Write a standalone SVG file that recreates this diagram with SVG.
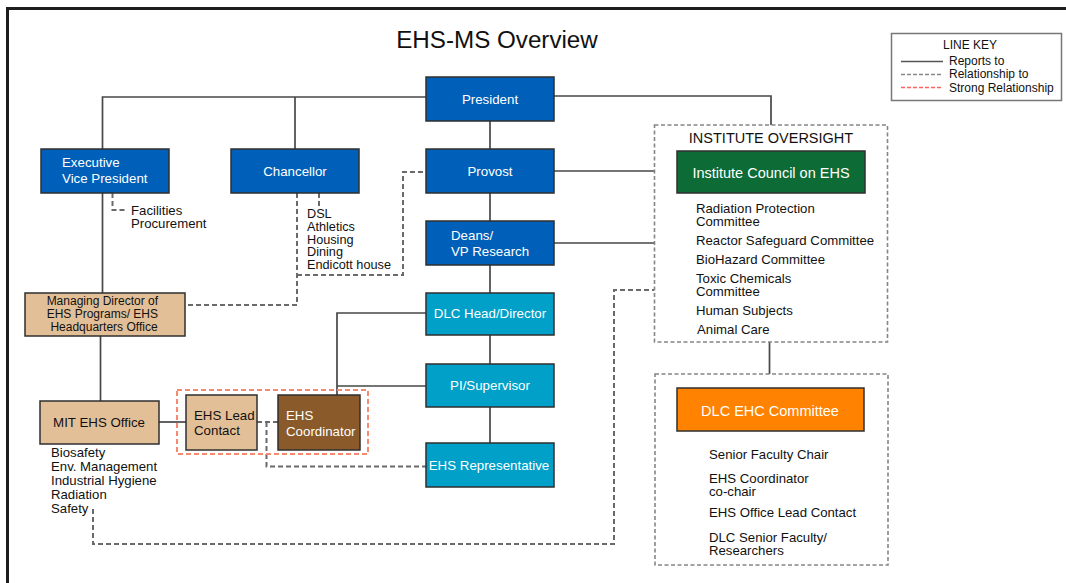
<svg xmlns="http://www.w3.org/2000/svg" width="1066" height="583" viewBox="0 0 1066 583">
  <style>
    text { font-family: "Liberation Sans", Arial, sans-serif; }
    .box { stroke: #2f2f2f; stroke-width: 1.5; }
    .blue { fill: #005fb8; }
    .cyan { fill: #00a0c9; }
    .tan { fill: #e3bf98; }
    .brown { fill: #8a5a2b; }
    .green { fill: #0d6b35; }
    .orange { fill: #ff8200; }
    .wt { fill: #ffffff; font-size: 13.3px; }
    .bt { fill: #111111; font-size: 13.3px; }
    .lt { fill: #111111; font-size: 13.2px; }
    .solid { fill: none; stroke: #474747; stroke-width: 1.7; }
    .dash { fill: none; stroke: #6a6a6a; stroke-width: 2; stroke-dasharray: 5 3; }
    .red { fill: none; stroke: #f58a6e; stroke-width: 2; stroke-dasharray: 5 3; }
    .group { fill: none; stroke: #858585; stroke-width: 1.6; stroke-dasharray: 4 2.5; }
  </style>

  <rect width="1066" height="583" fill="#ffffff"/>
  <!-- page frame -->
  <path d="M7.5 583 V8.5 H1066" fill="none" stroke="#1e1e1e" stroke-width="3"/>

  <text x="497" y="48" font-size="24.2" text-anchor="middle" fill="#111">EHS-MS Overview</text>

  <!-- line key -->
  <g id="line-key">
    <rect x="891.5" y="33.5" width="170" height="67" fill="#fff" stroke="#777" stroke-width="1.5"/>
    <text x="970" y="49" font-size="12" text-anchor="middle" fill="#111">LINE KEY</text>
    <line x1="901" y1="61.5" x2="943" y2="61.5" stroke="#555" stroke-width="1.5"/>
    <line x1="901" y1="74.5" x2="943" y2="74.5" stroke="#888" stroke-width="1.5" stroke-dasharray="4 2"/>
    <line x1="901" y1="87.5" x2="943" y2="87.5" stroke="#ff6060" stroke-width="1.5" stroke-dasharray="4 2"/>
    <text font-size="12" fill="#111">
      <tspan x="949" y="65">Reports to</tspan>
      <tspan x="949" y="78">Relationship to</tspan>
      <tspan x="949" y="92">Strong Relationship</tspan>
    </text>
  </g>

  <!-- connectors -->
  <g id="connectors">
    <path class="solid" d="M426 97 H102.5 V149"/>
    <path class="solid" d="M295 97 V149"/>
    <path class="solid" d="M554 96 H771 V125"/>
    <path class="solid" d="M490 121 V149"/>
    <path class="solid" d="M490 193 V221"/>
    <path class="solid" d="M490 265 V293"/>
    <path class="solid" d="M490 335 V364"/>
    <path class="solid" d="M490 407 V443"/>
    <path class="solid" d="M554 171 H654"/>
    <path class="solid" d="M554 243 H654"/>
    <path class="solid" d="M102.5 193 V293"/>
    <path class="solid" d="M100.5 336 V401"/>
    <path class="solid" d="M426 313 H337 V395"/>
    <path class="solid" d="M426 386 H337"/>
    <path class="solid" d="M159 422 H186"/>
    <path class="solid" d="M769.5 342 V374"/>

    <path class="dash" d="M112.5 193 V210 H127"/>
    <path class="dash" d="M319 193 V206"/>
    <path class="dash" d="M297 193 V305 H185"/>
    <path class="dash" d="M297 275 H403 V172 H426"/>
    <path class="dash" d="M257 422 H278"/>
    <path class="dash" d="M266.5 422 V466.5 H426"/>
    <path class="dash" d="M93 509 V544 H614 V290 H654"/>

    <rect class="red" x="177" y="390" width="191" height="64"/>
  </g>

  <!-- grouping frames -->
  <g id="institute-oversight">
    <rect class="group" x="654.5" y="125" width="233" height="217"/>
    <text x="771" y="143" font-size="14.5" text-anchor="middle" fill="#111">INSTITUTE OVERSIGHT</text>
  </g>
  <g id="dlc-frame">
    <rect class="group" x="655" y="374" width="233" height="191"/>
  </g>

  <g id="president">
    <rect class="box blue" x="426" y="77" width="128" height="44"/>
    <text class="wt" x="490" y="104" text-anchor="middle">President</text>
  </g>
  <g id="exec-vp">
    <rect class="box blue" x="41" y="149" width="128" height="44"/>
    <text class="wt"><tspan x="62" y="167">Executive</tspan><tspan x="62" y="183">Vice President</tspan></text>
  </g>
  <g id="chancellor">
    <rect class="box blue" x="231" y="149" width="128" height="44"/>
    <text class="wt" x="295" y="176" text-anchor="middle">Chancellor</text>
  </g>
  <g id="provost">
    <rect class="box blue" x="426" y="149" width="128" height="44"/>
    <text class="wt" x="490" y="176" text-anchor="middle">Provost</text>
  </g>
  <g id="deans">
    <rect class="box blue" x="426" y="221" width="128" height="44"/>
    <text class="wt"><tspan x="451" y="240">Deans/</tspan><tspan x="451" y="256">VP Research</tspan></text>
  </g>
  <g id="dlc-head">
    <rect class="box cyan" x="426" y="293" width="128" height="42"/>
    <text class="wt" x="490" y="318" text-anchor="middle">DLC Head/Director</text>
  </g>
  <g id="pi-supervisor">
    <rect class="box cyan" x="426" y="364" width="128" height="43"/>
    <text class="wt" x="490" y="390" text-anchor="middle">PI/Supervisor</text>
  </g>
  <g id="ehs-rep">
    <rect class="box cyan" x="426" y="443" width="128" height="44"/>
    <text class="wt" x="489" y="470" text-anchor="middle">EHS Representative</text>
  </g>

  <g id="managing-director">
    <rect class="box tan" x="25" y="293" width="160" height="43"/>
    <text font-size="12" text-anchor="middle" fill="#111">
      <tspan x="104" y="304.5">Managing Director of</tspan>
      <tspan x="104" y="317.5">EHS Programs/ EHS</tspan>
      <tspan x="104" y="330.5">Headquarters Office</tspan>
    </text>
  </g>
  <g id="mit-ehs-office">
    <rect class="box tan" x="40" y="401" width="119" height="43"/>
    <text class="bt" x="99" y="427" text-anchor="middle">MIT EHS Office</text>
  </g>
  <g id="ehs-lead">
    <rect class="box tan" x="186" y="395" width="71" height="55"/>
    <text class="bt"><tspan x="194" y="420">EHS Lead</tspan><tspan x="194" y="435">Contact</tspan></text>
  </g>
  <g id="ehs-coordinator">
    <rect class="box brown" x="278" y="395" width="82" height="55"/>
    <text class="wt"><tspan x="286" y="420">EHS</tspan><tspan x="286" y="436">Coordinator</tspan></text>
  </g>

  <g id="institute-council">
    <rect class="box green" x="677" y="151" width="188" height="42"/>
    <text x="771" y="178" font-size="14.5" text-anchor="middle" fill="#fff">Institute Council on EHS</text>
  </g>
  <g id="dlc-ehc">
    <rect class="box orange" x="677" y="388" width="187" height="43"/>
    <text x="770" y="415.5" font-size="14.5" text-anchor="middle" fill="#fff">DLC EHC Committee</text>
  </g>

  <!-- side lists -->
  <g id="evp-list">
    <text class="lt"><tspan x="131" y="215">Facilities</tspan><tspan x="131" y="228">Procurement</tspan></text>
  </g>
  <g id="chancellor-list">
    <text fill="#111" font-size="12.7">
      <tspan x="307" y="218">DSL</tspan>
      <tspan x="307" y="230.8">Athletics</tspan>
      <tspan x="307" y="243.6">Housing</tspan>
      <tspan x="307" y="256.4">Dining</tspan>
      <tspan x="307" y="269.2">Endicott house</tspan>
    </text>
  </g>
  <g id="mit-ehs-list">
    <text class="lt">
      <tspan x="51" y="457">Biosafety</tspan>
      <tspan x="51" y="471">Env. Management</tspan>
      <tspan x="51" y="485">Industrial Hygiene</tspan>
      <tspan x="51" y="499">Radiation</tspan>
      <tspan x="51" y="513">Safety</tspan>
    </text>
  </g>
  <g id="oversight-list">
    <text class="lt"><tspan x="696" y="213">Radiation Protection</tspan><tspan x="696" y="226">Committee</tspan></text>
    <text class="lt" x="696" y="245">Reactor Safeguard Committee</text>
    <text class="lt" x="696" y="264">BioHazard Committee</text>
    <text class="lt"><tspan x="696" y="283">Toxic Chemicals</tspan><tspan x="696" y="296">Committee</tspan></text>
    <text class="lt" x="696" y="315">Human Subjects</text>
    <text class="lt" x="697" y="334">Animal Care</text>
  </g>
  <g id="dlc-list">
    <text class="lt" x="709" y="459">Senior Faculty Chair</text>
    <text class="lt"><tspan x="709" y="483">EHS Coordinator</tspan><tspan x="709" y="496">co-chair</tspan></text>
    <text class="lt" x="709" y="517">EHS Office Lead Contact</text>
    <text class="lt"><tspan x="709" y="542">DLC Senior Faculty/</tspan><tspan x="709" y="555">Researchers</tspan></text>
  </g>
</svg>
